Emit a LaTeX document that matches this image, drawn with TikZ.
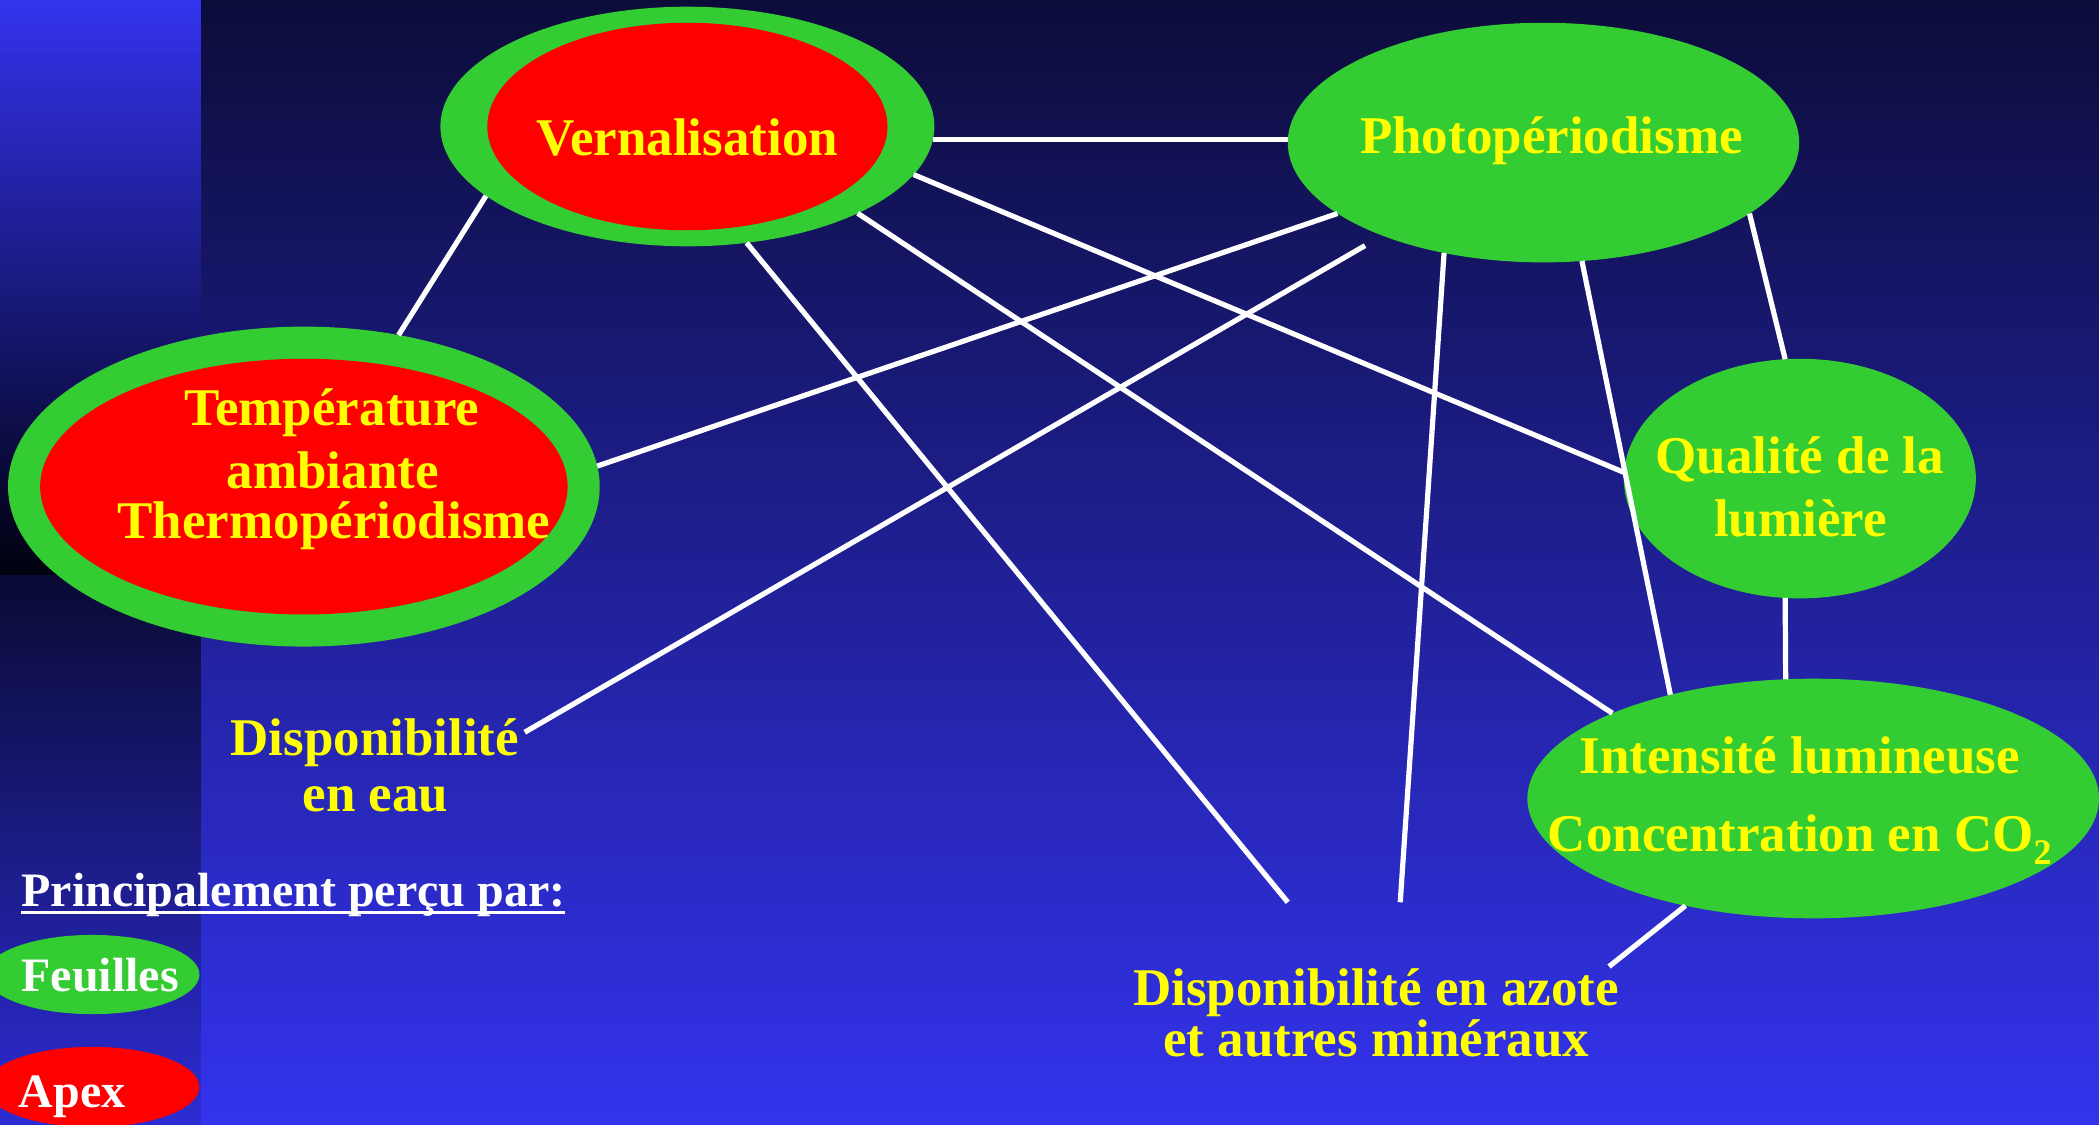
\documentclass[tikz,border=0pt]{standalone}
\usepackage{fontspec}
\setmainfont{Liberation Serif}
\usetikzlibrary{shapes.geometric}

\definecolor{leafgreen}{RGB}{51,204,51}
\definecolor{apexred}{RGB}{255,0,0}
\definecolor{labelyellow}{RGB}{255,255,0}
\definecolor{skytop}{RGB}{12,12,58}
\definecolor{skybottom}{RGB}{51,51,238}
\definecolor{stripdark}{RGB}{0,0,14}
\definecolor{stripnavy}{RGB}{10,10,52}
\definecolor{stripbottom}{RGB}{44,44,212}

% one drawing unit in points
\newcommand\rpx{0.6693pt}
% underlined text with a fixed rule below the baseline
\newcommand\ulbox[1]{\setbox0\hbox{#1}\rlap{\rule[-3.95pt]{\wd0}{1.5pt}}\box0}

\tikzset{
  zone/.style 2 args={ellipse, inner sep=0pt, outer sep=0pt,
    minimum width=2*#1*\rpx, minimum height=2*#2*\rpx},
  lbl/.style={font=\fontsize{26.5}{30}\selectfont\bfseries, text=labelyellow,
    inner sep=0pt, anchor=base},
  legendtxt/.style={font=\fontsize{24}{28}\selectfont\bfseries, text=white,
    inner sep=0pt, anchor=base west},
  conn/.style={draw=white, line width=2.6pt}
}

\begin{document}
\begin{tikzpicture}[x=0.6693pt, y=-0.6693pt]

\useasboundingbox (0,0) rectangle (1568,840);

% background
\shade[top color=skytop, bottom color=skybottom] (150,0) rectangle (1568,840);
\shade[top color=skybottom, bottom color=stripdark] (0,0) rectangle (150,430);
\shade[top color=stripnavy, bottom color=stripbottom] (0,430) rectangle (150,840);

% factors
\node[zone={184.5}{89.5}, fill=leafgreen] (verna) at (513.5,94.5) {};
\node[zone={149.5}{77.5}, fill=apexred] (verna-core) at (verna) {};
\node[lbl] (verna-t) at (513.5,116) {Vernalisation};

\node[zone={191}{89.5}, fill=leafgreen] (photo) at (1153,106.5) {};
\node[lbl] (photo-t) at (1159,115) {Photopériodisme};

\node[zone={221}{119.5}, fill=leafgreen] (temp) at (227,363.5) {};
\node[zone={197}{95.5}, fill=apexred] (temp-core) at (temp) {};
\node[lbl] (temp-t1) at (248,318) {Température};
\node[lbl] (temp-t2) at (248.5,365) {ambiante};
\node[lbl] (temp-t3) at (249.5,402) {Thermopériodisme};

\node[zone={131.5}{89.5}, fill=leafgreen] (qual) at (1344.5,357.5) {};
\node[lbl] (qual-t1) at (1344.5,354) {Qualité de la};
\node[lbl] (qual-t2) at (1345,401) {lumière};

\node[zone={213.5}{89.5}, fill=leafgreen] (inten) at (1354.5,596.5) {};
\node[lbl] (inten-t1) at (1344.5,578) {Intensité lumineuse};
\node[lbl] (inten-t2) at (1344.5,636)
  {Concentration en CO\raisebox{-6.5pt}{\fontsize{18}{18}\selectfont 2}};

\node[lbl] (eau-t1) at (280,564) {Disponibilité};
\node[lbl] (eau-t2) at (280.5,606) {en eau};
\node[lbl] (azote-t1) at (1028,751) {Disponibilité en azote};
\node[lbl] (azote-t2) at (1028,789) {et autres minéraux};

% legend
\node[legendtxt] (legend-title) at (15.7,677) {\ulbox{Principalement perçu par:}};
\node[zone={80}{29.6}, fill=leafgreen] (leaf) at (69,728) {};
\node[legendtxt] (leaf-t) at (15.7,741) {Feuilles};
\node[zone={80}{30}, fill=apexred] (apex) at (69,812) {};
\node[legendtxt] (apex-t) at (13.7,827) {Apex};

% free ends of connectors
\coordinate (eau-end) at (392,547);
\coordinate (azote-end1) at (962,674);
\coordinate (azote-end2) at (1046,674);
\coordinate (azote-end3) at (1202,722);

% connectors
\draw[conn] (verna.-3) -- (photo.west |- verna.-3);
\draw[conn] (verna.199.8) -- (temp.58.5);
\draw[conn] (photo.199) -- (temp.4.6);
\draw[conn, shorten <=10pt] (photo.210.4) -- (eau-end);
\draw[conn] (verna.-12.4) -- (qual.178.9);
\draw[conn] (verna.-27.9) -- (inten.157.6);
\draw[conn] (verna.-63) -- (azote-end1);
\draw[conn] (photo.228.2) -- (azote-end2);
\draw[conn] (photo.-72.4) -- (inten.144.7);
\draw[conn] (photo.-19.3) -- (qual.97.4);
\draw[conn] (qual.-97.3) -- (inten.103.5);
\draw[conn] (inten.220.1) -- (azote-end3);

\end{tikzpicture}
\end{document}
